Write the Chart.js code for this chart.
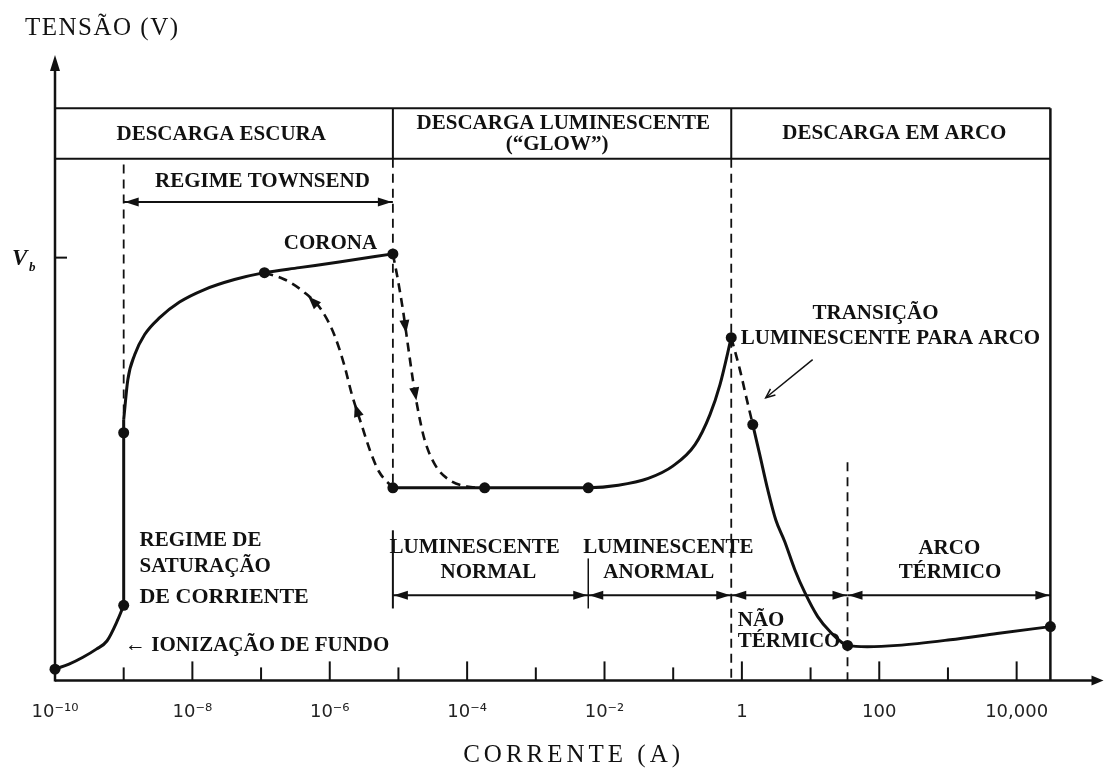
<!DOCTYPE html>
<html>
<head>
<meta charset="utf-8">
<script src="https://cdn.jsdelivr.net/npm/chart.js@4"></script>
<style>
  html, body { margin: 0; padding: 0; background: #fff; }
  canvas { display: block; }
</style>
</head>
<body>
<canvas id="myChart" width="1108" height="769"></canvas>
<script>
// corrente em A (eixo log), tensão em unidades relativas (0-100)
const ionCurrent = [1e-10, 1.6e-10, 2.55e-10, 4e-10, 5.7e-10, 8.2e-10, 1e-9];
const ionVoltage = [1.8, 2.6, 3.7, 5.0, 6.3, 9.7, 12.0];

const satCurrent = [1e-9, 1e-9];
const satVoltage = [12.0, 41.7];

const townsendCurrent = [1e-9, 1.15e-9, 1.45e-9, 2.02e-9, 3.34e-9, 6.5e-9, 1.5e-8, 4.1e-8, 1.12e-7, 3.6e-7, 1.37e-6, 8.3e-6];
const townsendVoltage = [41.7, 48.1, 52.1, 55.3, 58.0, 60.5, 62.5, 64.1, 65.2, 66.0, 66.9, 68.2];

const glowCurrent = [8.3e-6, 1.8e-4, 5.8e-3, 0.0159, 0.0433, 0.0998, 0.208, 0.343, 0.48, 0.7];
const glowVoltage = [30.8, 30.8, 30.8, 31.2, 32.3, 34.3, 37.7, 42.5, 47.3, 54.8];

const transCurrent = [0.7, 0.935, 1.18, 1.44];
const transVoltage = [54.8, 49.7, 44.9, 40.9];

const arcCurrent = [1.44, 1.82, 2.38, 3.11, 4.2, 5.9, 8.2, 12.7, 19.6, 34.5, 67, 184, 1080, 5190, 31000];
const arcVoltage = [40.9, 36.1, 30.5, 25.7, 22.2, 17.7, 14.1, 10.2, 7.7, 5.6, 5.4, 5.6, 6.5, 7.5, 8.6];

const coronaDropCurrent = [8.3e-6, 9.8e-6, 1.16e-5, 1.37e-5, 1.62e-5, 1.92e-5, 2.4e-5, 3.4e-5, 5.4e-5, 9.9e-5, 1.8e-4];
const coronaDropVoltage = [68.2, 64.1, 59.3, 53.7, 48.1, 43.3, 38.5, 34.5, 32.1, 31.0, 30.8];

const returnCurrent = [1.12e-7, 2.2e-7, 4.2e-7, 7.5e-7, 1.16e-6, 1.62e-6, 2.1e-6, 2.9e-6, 3.9e-6, 5.2e-6, 8.3e-6];
const returnVoltage = [65.2, 64.1, 62.1, 59.3, 55.3, 50.5, 45.7, 40.9, 36.6, 33.4, 30.8];

const dotCurrent = [1e-10, 1e-9, 1e-9, 1.12e-7, 8.3e-6, 8.3e-6, 1.8e-4, 5.8e-3, 0.7, 1.44, 34.5, 31000];
const dotVoltage = [1.8, 12.0, 39.6, 65.2, 68.2, 30.8, 30.8, 30.8, 54.8, 40.9, 5.6, 8.6];

// ticks (expoentes de 10) e rótulos
const tickExps = [-10, -9, -8, -7, -6, -5, -4, -3, -2, -1, 0, 1, 2, 3, 4];
const tickLabels = ['10⁻¹⁰', '', '10⁻⁸', '', '10⁻⁶', '', '10⁻⁴', '', '10⁻²', '', '1', '', '100', '', '10,000'];

// limites dos regimes
const townsendI = 1e-9, coronaI = 8.3e-6, normalEndI = 5.8e-3, glowArcI = 0.7, thermalI = 34.5, endI = 31000;
const vbVoltage = 67.6, glowV = 30.8;
const boxTop = 91.5, boxBottom = 83.4;

const INK = '#111';
const SERIF = '"Liberation Serif", "Times New Roman", serif';
const BOLD = 'bold 21px ' + SERIF;

// textos: posição em (expoente da corrente, tensão)
const notes = [
  {t: 'DESCARGA ESCURA', e: -7.58, v: 87.2},
  {t: 'DESCARGA LUMINESCENTE', e: -2.60, v: 89.0},
  {t: '(“GLOW”)', e: -2.69, v: 85.6},
  {t: 'DESCARGA EM ARCO', e: 2.22, v: 87.5},
  {t: 'REGIME TOWNSEND', e: -6.98, v: 79.8},
  {t: 'CORONA', e: -5.99, v: 69.9},
  {t: 'TRANSIÇÃO', e: 1.945, v: 58.7},
  {t: 'LUMINESCENTE PARA ARCO', e: 2.163, v: 54.6},
  {t: 'REGIME DE', e: -8.77, v: 22.4, al: 'left'},
  {t: 'SATURAÇÃO', e: -8.77, v: 18.2, al: 'left'},
  {t: 'DE CORRIENTE', e: -8.77, v: 13.3, al: 'left', f: 'bold 22px ' + SERIF},
  {t: '← IONIZAÇÃO DE FUNDO', e: -8.98, v: 5.6, al: 'left'},
  {t: 'LUMINESCENTE', e: -3.89, v: 21.3},
  {t: 'NORMAL', e: -3.69, v: 17.3},
  {t: 'LUMINESCENTE', e: -1.07, v: 21.3},
  {t: 'ANORMAL', e: -1.21, v: 17.3},
  {t: 'ARCO', e: 3.02, v: 21.1},
  {t: 'TÉRMICO', e: 3.03, v: 17.3},
  {t: 'NÃO', e: -0.06, v: 9.6, al: 'left'},
  {t: 'TÉRMICO', e: -0.06, v: 6.2, al: 'left'}
];

// setas sobre as curvas tracejadas
const curveArrows = [
  {I: coronaDropCurrent, V: coronaDropVoltage, from: 2, to: 3},
  {I: coronaDropCurrent, V: coronaDropVoltage, from: 4, to: 5},
  {I: returnCurrent, V: returnVoltage, from: 3, to: 2},
  {I: returnCurrent, V: returnVoltage, from: 7, to: 6}
];

const xy = (I, V) => I.map((c, k) => ({x: c, y: V[k]}));
const curve = (I, V, dashed) => ({
  data: xy(I, V),
  showLine: true,
  borderColor: INK,
  borderWidth: dashed ? 2.6 : 3,
  borderDash: dashed ? [9, 6] : [],
  pointRadius: 0,
  cubicInterpolationMode: 'monotone',
  clip: false
});

const decor = {
  id: 'decor',
  beforeDatasetsDraw(chart) {
    const {ctx, chartArea: a, scales: {x, y}} = chart;
    const X = I => x.getPixelForValue(I);
    const E = e => x.getPixelForValue(Math.pow(10, e));
    const Y = v => y.getPixelForValue(v);
    ctx.save();
    ctx.strokeStyle = INK;
    ctx.fillStyle = INK;

    const seg = (x1, y1, x2, y2, w, dash) => {
      ctx.beginPath();
      ctx.lineWidth = w;
      ctx.setLineDash(dash || []);
      ctx.moveTo(x1, y1);
      ctx.lineTo(x2, y2);
      ctx.stroke();
      ctx.setLineDash([]);
    };
    const head = (tx, ty, ang, len, half) => {
      const c = Math.cos(ang), s = Math.sin(ang);
      ctx.beginPath();
      ctx.moveTo(tx, ty);
      ctx.lineTo(tx - len * c + half * s, ty - len * s - half * c);
      ctx.lineTo(tx - len * c - half * s, ty - len * s + half * c);
      ctx.closePath();
      ctx.fill();
    };
    const bracket = (I1, I2, v) => {
      const x1 = X(I1), x2 = X(I2), yy = Y(v);
      seg(x1, yy, x2, yy, 2);
      head(x1 + 1, yy, Math.PI, 14, 4.5);
      head(x2 - 1, yy, 0, 14, 4.5);
    };

    // eixos
    const x0 = a.left, y0 = a.bottom;
    seg(x0, y0, a.right - 6, y0, 2.5);
    seg(x0, y0 + 1, x0, a.top + 10, 2.5);
    head(x0, a.top, -Math.PI / 2, 16, 5);
    head(a.right + 1, y0, 0, 12, 5);

    // marcas do eixo x (para cima)
    x.ticks.forEach((t, i) => {
      const tx = X(t.value);
      seg(tx, y0, tx, y0 - (tickLabels[i] ? 19 : 13), 2);
    });

    // Vb
    seg(x0, Y(vbVoltage), x0 + 12, Y(vbVoltage), 2);
    ctx.textBaseline = 'middle';
    ctx.textAlign = 'left';
    ctx.font = 'italic bold 23px ' + SERIF;
    ctx.fillText('V', x0 - 43, Y(vbVoltage) + 1);
    ctx.font = 'italic bold 13px ' + SERIF;
    ctx.fillText('b', x0 - 26, Y(vbVoltage) + 10);

    // quadro dos regimes
    const yt = Y(boxTop), yb = Y(boxBottom), xr = X(endI);
    seg(x0, yt, xr, yt, 2);
    seg(x0, yb, xr, yb, 2);
    seg(X(coronaI), yt, X(coronaI), yb, 2);
    seg(X(glowArcI), yt, X(glowArcI), yb, 2);
    seg(xr, yt, xr, y0, 2.5);

    // linhas verticais tracejadas
    const dash = [9, 6];
    seg(X(townsendI), Y(82.5), X(townsendI), Y(39.6), 1.8, dash);
    seg(X(coronaI), yb, X(coronaI), Y(glowV), 1.8, dash);
    seg(X(glowArcI), yb, X(glowArcI), y0, 1.8, dash);
    seg(X(thermalI), Y(34.9), X(thermalI), y0, 1.8, dash);

    // cotas
    bracket(townsendI, coronaI, 76.5);
    [[coronaI, normalEndI], [normalEndI, glowArcI], [glowArcI, thermalI], [thermalI, endI]]
      .forEach(([p, q]) => bracket(p, q, 13.6));
    seg(X(coronaI), Y(24), X(coronaI), Y(11.5), 2);
    seg(X(normalEndI), Y(19.5), X(normalEndI), Y(11.5), 1.5);

    // seta da transição
    const ax1 = E(1.03), ay1 = Y(51.3), ax2 = E(0.348), ay2 = Y(45.2);
    seg(ax1, ay1, ax2, ay2, 1.5);
    const ang = Math.atan2(ay2 - ay1, ax2 - ax1);
    ctx.beginPath();
    ctx.lineWidth = 1.5;
    ctx.moveTo(ax2 - 10 * Math.cos(ang - 0.4), ay2 - 10 * Math.sin(ang - 0.4));
    ctx.lineTo(ax2, ay2);
    ctx.lineTo(ax2 - 10 * Math.cos(ang + 0.4), ay2 - 10 * Math.sin(ang + 0.4));
    ctx.stroke();

    // setas nas curvas
    curveArrows.forEach(({I, V, from, to}) => {
      const px = X(I[from]), py = Y(V[from]), qx = X(I[to]), qy = Y(V[to]);
      const an = Math.atan2(qy - py, qx - px);
      head((px + qx) / 2 + 6 * Math.cos(an), (py + qy) / 2 + 6 * Math.sin(an), an, 13, 5);
    });

    // textos
    notes.forEach(n => {
      ctx.font = n.f || BOLD;
      ctx.textAlign = n.al || 'center';
      ctx.fillText(n.t, E(n.e), Y(n.v));
    });

    // títulos dos eixos
    ctx.font = '25px ' + SERIF;
    ctx.textAlign = 'left';
    ctx.letterSpacing = '1.5px';
    ctx.fillText('TENSÃO (V)', x0 - 30, a.top - 27);
    ctx.textAlign = 'center';
    ctx.letterSpacing = '4px';
    ctx.fillText('CORRENTE (A)', E(-2.45), a.bottom + 75);
    ctx.letterSpacing = '0px';
    ctx.restore();
  }
};

const config = {
  type: 'scatter',
  data: {
    datasets: [
      curve(ionCurrent, ionVoltage),
      Object.assign(curve(satCurrent, satVoltage), {cubicInterpolationMode: 'default', tension: 0}),
      curve(townsendCurrent, townsendVoltage),
      curve(glowCurrent, glowVoltage),
      curve(transCurrent, transVoltage, true),
      curve(arcCurrent, arcVoltage),
      curve(coronaDropCurrent, coronaDropVoltage, true),
      curve(returnCurrent, returnVoltage, true),
      {
        data: xy(dotCurrent, dotVoltage),
        showLine: false,
        pointRadius: 5.5,
        pointBackgroundColor: INK,
        pointBorderWidth: 0,
        clip: false
      }
    ]
  },
  options: {
    responsive: false,
    animation: false,
    layout: {padding: {left: 55, right: 3, top: 55, bottom: 25}},
    plugins: {legend: {display: false}, tooltip: {enabled: false}},
    scales: {
      x: {
        type: 'logarithmic',
        min: 1e-10,
        max: Math.pow(10, 5.25),
        grid: {display: false, drawTicks: false},
        border: {display: false},
        afterBuildTicks: s => { s.ticks = tickExps.map(e => ({value: Math.pow(10, e)})); },
        ticks: {
          autoSkip: false,
          maxRotation: 0,
          padding: 21,
          color: '#222',
          font: {family: '"DejaVu Sans", sans-serif', size: 18},
          callback: (v, i) => tickLabels[i]
        }
      },
      y: {display: false, min: 0, max: 100}
    }
  },
  plugins: [decor]
};

const myChart = new Chart(document.getElementById('myChart'), config);
</script>
</body>
</html>
